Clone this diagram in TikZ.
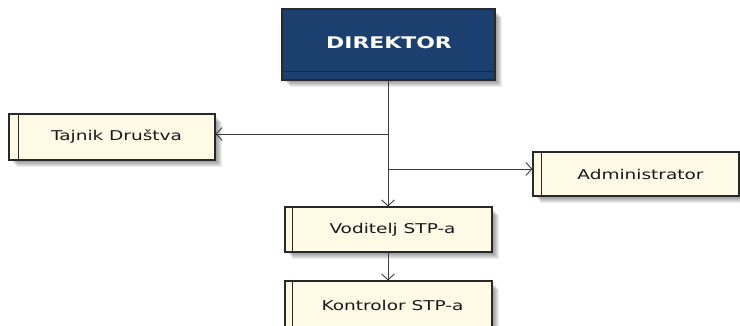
\documentclass[tikz,border=0pt]{standalone}
\usepackage{fontspec}
\newfontfamily\boxfont[FakeStretch=1.37]{DejaVu Sans}
\usetikzlibrary{calc,arrows.meta}
\definecolor{dirblue}{RGB}{27,63,110}
\definecolor{cream}{RGB}{254,250,230}
\definecolor{edge}{RGB}{40,40,40}
\tikzset{
  shadowbox/.style={fill=black, opacity=0.07},
  rolebox/.style={draw=edge, line width=1.1pt, fill=cream, inner sep=0pt,
    font=\boxfont\fontsize{13.5}{15}\selectfont, text=black!90},
  dirbox/.style={draw=edge, line width=1.1pt, fill=dirblue, inner sep=0pt},
  link/.style={draw=edge!90, line width=0.9pt},
  arr/.style={link, -{Straight Barb[length=6pt, width=13pt, line width=0.9pt]}},
}
\newcommand{\softshadow}[4]{% x1 y1 x2 y2
  \foreach \d in {0,1,2,3,4,5}{
    \fill[shadowbox] ({#1+3+\d},{#2+3+\d}) rectangle ({#3+2+\d},{#4+2+\d});
  }
}
\begin{document}
\begin{tikzpicture}[x=1pt,y=-1pt]
\useasboundingbox[fill=white] (0,0) rectangle (740,325);
% shadows
\softshadow{282}{9}{495}{80}
\softshadow{9}{114}{215}{160}
\softshadow{533}{152}{739}{196}
\softshadow{285}{207}{492}{252}
\softshadow{285}{281}{492}{330}
% nodes
\node[dirbox, minimum width=213pt, minimum height=71pt] (dir) at (388.5,44.5) {};
\node[font=\boxfont\bfseries\fontsize{16}{18}\selectfont, text=white] (dirtxt) at (389,43) {DIREKTOR};
\node[rolebox, minimum width=206pt, minimum height=46pt] (taj) at (112,137) {\hspace*{9pt}Tajnik Društva};
\node[rolebox, minimum width=206pt, minimum height=44pt] (adm) at (636,174) {\hspace*{9pt}Administrator};
\node[rolebox, minimum width=207pt, minimum height=45pt] (vod) at (388.5,229.5) {\hspace*{8pt}Voditelj STP-a};
\node[rolebox, minimum width=207pt, minimum height=48pt] (kon) at (388.5,305) {\hspace*{8pt}Kontrolor STP-a};
% inner lines
\draw[edge, line width=1.1pt] ($(dir.south west)+(0,-9)$) -- ($(dir.south east)+(0,-9)$);
\draw[edge, line width=1.1pt] ($(taj.north west)+(10,0)$) -- ($(taj.south west)+(10,0)$);
\draw[edge, line width=1.1pt] ($(adm.north west)+(9,0)$) -- ($(adm.south west)+(9,0)$);
\draw[edge, line width=1.1pt] ($(vod.north west)+(8,0)$) -- ($(vod.south west)+(8,0)$);
\draw[edge, line width=1.1pt] ($(kon.north west)+(8,0)$) -- ($(kon.south west)+(8,0)$);
% connectors
\coordinate (j1) at (388,134);
\coordinate (j2) at (388,169);
\draw[arr] (dir.south -| j1) -- (vod.north -| j1);
\draw[arr] (j1) -- (j1 -| taj.east);
\draw[arr] (j2) -- (j2 -| adm.west);
\draw[arr] (vod.south -| j1) -- (kon.north -| j1);
\end{tikzpicture}
\end{document}
